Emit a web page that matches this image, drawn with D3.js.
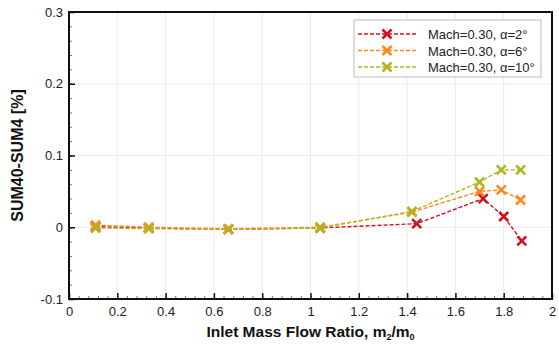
<!DOCTYPE html>
<html>
<head>
<meta charset="utf-8">
<script src="https://cdn.jsdelivr.net/npm/d3@7"></script>
<style>
  body { margin: 0; background: #fff; }
  svg { display: block; }
  svg text { font-family: "Liberation Sans", Arial, sans-serif; }
</style>
</head>
<body>
<div id="chart"></div>
<script>
// Data
const seriesNames = ["Mach=0.30, \u03b1=2\u00b0", "Mach=0.30, \u03b1=6\u00b0", "Mach=0.30, \u03b1=10\u00b0"]
const seriesColors = ["#d4101c", "#ff8a1c", "#b3b41c"]
const xAlpha2 = [0.11, 0.33, 0.66, 1.04, 1.44, 1.715, 1.80, 1.875]
const yAlpha2 = [0.001, -0.001, -0.003, -0.001, 0.005, 0.040, 0.015, -0.019]
const xAlpha6 = [0.11, 0.33, 0.66, 1.04, 1.42, 1.70, 1.79, 1.87]
const yAlpha6 = [0.003, 0.000, -0.002, 0.000, 0.021, 0.050, 0.052, 0.038]
const xAlpha10 = [0.11, 0.33, 0.66, 1.04, 1.42, 1.70, 1.79, 1.87]
const yAlpha10 = [-0.001, -0.002, -0.003, -0.001, 0.022, 0.063, 0.080, 0.080]
const xTicks = [0, 0.2, 0.4, 0.6, 0.8, 1, 1.2, 1.4, 1.6, 1.8, 2]
const yTicks = [-0.1, 0, 0.1, 0.2, 0.3]

const datalist = [
  { name: seriesNames[0], color: seriesColors[0], data: xAlpha2.map((x, i) => ({ x, y: yAlpha2[i] })) },
  { name: seriesNames[1], color: seriesColors[1], data: xAlpha6.map((x, i) => ({ x, y: yAlpha6[i] })) },
  { name: seriesNames[2], color: seriesColors[2], data: xAlpha10.map((x, i) => ({ x, y: yAlpha10[i] })) },
]

// Layout
const width = 559, height = 345
const margin = { top: 12, left: 69, right: 7, bottom: 46 }
const font = "Liberation Sans, Arial, sans-serif"
const svg = d3.select("#chart").append("svg")
  .attr("width", width)
  .attr("height", height)

const x = d3.scaleLinear().domain([0, 2]).range([margin.left, width - margin.right])
const y = d3.scaleLinear().domain([-0.1, 0.3]).range([height - margin.bottom, margin.top])

// Grid
svg.append("g")
  .selectAll("line")
  .data(xTicks.slice(1, -1))
  .join("line")
  .attr("x1", d => x(d)).attr("x2", d => x(d))
  .attr("y1", y(0.3)).attr("y2", y(-0.1))
  .attr("stroke", "#ececec")
svg.append("g")
  .selectAll("line")
  .data(yTicks.slice(1, -1))
  .join("line")
  .attr("x1", x(0)).attr("x2", x(2))
  .attr("y1", d => y(d)).attr("y2", d => y(d))
  .attr("stroke", "#ececec")

// X axis
const xMinor = d3.range(0, 2.0001, 0.04)
svg.append("g")
  .attr("transform", `translate(0,${y(-0.1)})`)
  .call(d3.axisBottom(x).tickValues(xMinor).tickSize(-3).tickFormat(""))
  .call(g => g.select(".domain").remove())
  .call(g => g.selectAll(".tick line").attr("stroke", "#777"))
svg.append("g")
  .attr("transform", `translate(0,${y(-0.1)})`)
  .call(d3.axisBottom(x).tickValues(xTicks).tickSize(-6).tickPadding(8).tickFormat(d3.format("")))
  .attr("font-family", font).attr("font-size", 13)
  .call(g => g.select(".domain").remove())
  .call(g => g.selectAll(".tick line").attr("stroke", "#111").attr("stroke-width", 1.5))
  .call(g => g.selectAll(".tick text").attr("fill", "#222"))

// Y axis
const yMinor = d3.range(-0.1, 0.3001, 0.02)
svg.append("g")
  .attr("transform", `translate(${x(0)},0)`)
  .call(d3.axisLeft(y).tickValues(yMinor).tickSize(-3).tickFormat(""))
  .call(g => g.select(".domain").remove())
  .call(g => g.selectAll(".tick line").attr("stroke", "#777"))
svg.append("g")
  .attr("transform", `translate(${x(0)},0)`)
  .call(d3.axisLeft(y).tickValues(yTicks).tickSize(-6).tickPadding(6).tickFormat(d => d === 0 ? "0" : d.toFixed(1)))
  .attr("font-family", font).attr("font-size", 13)
  .call(g => g.select(".domain").remove())
  .call(g => g.selectAll(".tick line").attr("stroke", "#111").attr("stroke-width", 1.5))
  .call(g => g.selectAll(".tick text").attr("fill", "#222"))

// Frame
svg.append("rect")
  .attr("x", x(0)).attr("y", y(0.3))
  .attr("width", x(2) - x(0)).attr("height", y(-0.1) - y(0.3))
  .attr("fill", "none").attr("stroke", "#111").attr("stroke-width", 2)

// Axis titles
const xt = svg.append("text")
  .attr("x", (x(0) + x(2)) / 2).attr("y", 337)
  .attr("text-anchor", "middle")
  .attr("font-family", font)
  .attr("font-weight", "bold").attr("font-size", 15.5).attr("fill", "#111")
xt.append("tspan").text("Inlet Mass Flow Ratio, m")
xt.append("tspan").attr("dy", 3).attr("font-size", 9).text("2")
xt.append("tspan").attr("dy", -3).text("/m")
xt.append("tspan").attr("dy", 3).attr("font-size", 9).text("0")

svg.append("text")
  .attr("transform", `translate(23,${(y(0.3) + y(-0.1)) / 2}) rotate(-90)`)
  .attr("text-anchor", "middle")
  .attr("font-family", font)
  .attr("font-weight", "bold").attr("font-size", 16).attr("fill", "#111")
  .text("SUM40-SUM4 [%]")

// Series
const cross = (g, s, color) => g.append("path")
  .attr("d", `M${-s},${-s}L${s},${s}M${-s},${s}L${s},${-s}`)
  .attr("stroke", color).attr("stroke-width", 2.6).attr("fill", "none")

for (const { color, data } of datalist) {
  svg.append("path")
    .datum(data)
    .attr("d", d3.line().x(d => x(d.x)).y(d => y(d.y)))
    .attr("fill", "none")
    .attr("stroke", color)
    .attr("stroke-width", 1.4)
    .attr("stroke-dasharray", "4,2")
  svg.append("g")
    .selectAll("g")
    .data(data)
    .join("g")
    .attr("transform", d => `translate(${x(d.x)},${y(d.y)})`)
    .each(function () { cross(d3.select(this), 4.5, color) })
}

// Legend
const legend = svg.append("g").attr("transform", "translate(354,20)")
legend.append("rect")
  .attr("width", 187).attr("height", 57)
  .attr("fill", "#fff").attr("stroke", "#bbb")
datalist.forEach(({ name, color }, i) => {
  const row = legend.append("g").attr("transform", `translate(0,${14 + i * 16.5})`)
  row.append("line")
    .attr("x1", 4).attr("x2", 63)
    .attr("stroke", color).attr("stroke-width", 1.4).attr("stroke-dasharray", "4,2")
  row.append("g").attr("transform", "translate(33,0)").call(g => cross(g, 4.5, color))
  row.append("text")
    .attr("x", 74).attr("y", 5)
    .attr("font-family", font)
    .attr("font-size", 13).attr("fill", "#222")
    .text(name)
})
</script>
</body>
</html>
